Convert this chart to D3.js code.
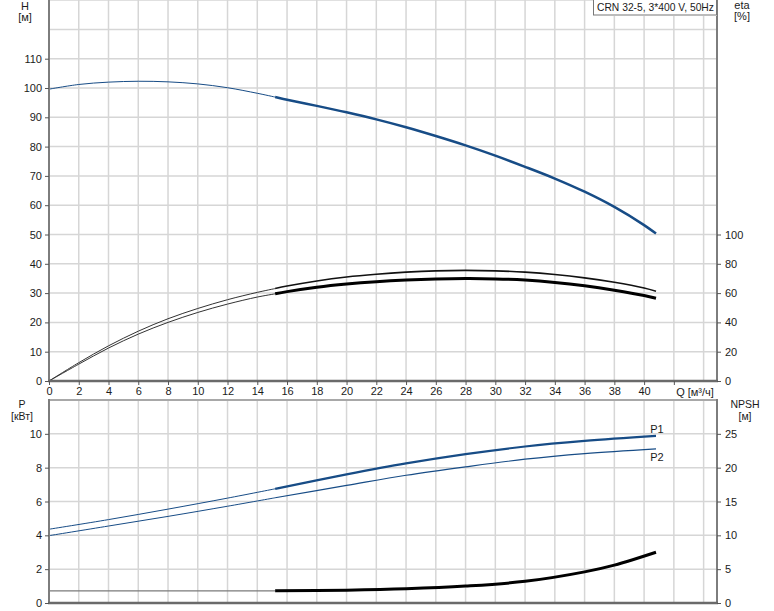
<!DOCTYPE html>
<html><head><meta charset="utf-8">
<script src="https://cdn.jsdelivr.net/npm/d3@7"></script>
<style>
html,body{margin:0;padding:0;background:#fff;}
svg text{font-family:"Liberation Sans",Arial,sans-serif;font-size:11px;fill:#1b1b1b;}
</style></head>
<body><svg id="c" width="774" height="611"></svg>
<script>
// ---- data ----
const qTicks = [0,2,4,6,8,10,12,14,16,18,20,22,24,26,28,30,32,34,36,38,40];
const hTicks = [0,10,20,30,40,50,60,70,80,90,100,110];
const etaTicks = [0,20,40,60,80,100];
const pTicks = [0,2,4,6,8,10];
const npshTicks = [0,5,10,15,20,25];
const splitQ = 15.2;

const qH = [0,2,4,6,8,10,12,14,15.2,16,18,20,22,24,26,28,30,32,34,36,38,40,40.8];
const hVals = [99.6,101.2,102.0,102.3,102.1,101.4,100.1,98.2,96.9,96.0,93.9,91.7,89.3,86.6,83.6,80.4,76.9,73.1,69.1,64.6,59.4,53.2,50.3];

const qE = [0,2,4,6,8,10,12,14,15.2,16,18,20,22,24,26,28,30,32,34,36,38,40,40.8];
const eta1 = [0,12.5,24,34,42.5,49.5,55.5,60.5,63.1,64.8,68.3,71,72.9,74.3,75.2,75.5,75.2,74.3,72.7,70.4,67.4,63.5,61.3];
const eta2 = [0,11.5,22.5,32,40,46.8,52.5,57.3,59.5,61,64,66.2,67.8,68.9,69.6,69.9,69.7,68.9,67.3,65,62,58.4,56.5];

const qP = [0,4,8,12,15.2,20,24,28,32,36,40.8];
const p1 = [4.36,4.93,5.55,6.2,6.75,7.6,8.25,8.8,9.25,9.58,9.88];
const p2 = [3.98,4.55,5.12,5.72,6.22,6.95,7.55,8.05,8.5,8.83,9.11];

const qN = [0,15.2,20,24,28,32,36,38,40.8];
const npsh = [1.8,1.8,1.9,2.1,2.5,3.2,4.6,5.6,7.5];

const title = "CRN 32-5, 3*400 V, 50Hz";

// ---- scales ----
const svg = d3.select("#c");
const x = d3.scaleLinear().domain([0,44.9]).range([49,717]);
const yH = d3.scaleLinear().domain([0,130]).range([381,0.1]);
const yEta = d3.scaleLinear().domain([0,260]).range([381,0.1]);
const yP = d3.scaleLinear().domain([0,12]).range([603,400]);
const yN = d3.scaleLinear().domain([0,30]).range([603,400]);

const gridCol = "#d6d6d6";
const blue = "#174c86";

// grids
const gridQ = d3.range(2,45,2);
const g = svg.append("g");
gridQ.forEach(q=>{
  g.append("line").attr("x1",x(q)).attr("x2",x(q)).attr("y1",0).attr("y2",381).attr("stroke",gridCol).attr("stroke-width",1.5);
  g.append("line").attr("x1",x(q)).attr("x2",x(q)).attr("y1",400).attr("y2",603).attr("stroke",gridCol).attr("stroke-width",1.5);
});
d3.range(10,131,10).forEach(h=>{
  g.append("line").attr("x1",49).attr("x2",717).attr("y1",yH(h)).attr("y2",yH(h)).attr("stroke",gridCol).attr("stroke-width",1.5);
});
d3.range(2,11,2).forEach(p=>{
  g.append("line").attr("x1",49).attr("x2",717).attr("y1",yP(p)).attr("y2",yP(p)).attr("stroke",gridCol).attr("stroke-width",1.5);
});
g.append("line").attr("x1",49).attr("x2",717).attr("y1",400).attr("y2",400).attr("stroke","#a8a8a8").attr("stroke-width",2);

// ---- curves ----
function pts(qs, vs){ return qs.map((q,i)=>[q,vs[i]]); }
function draw(data, ys, color, wThin, wThick, thinColor){
  const line = d3.line().x(d=>x(d[0])).y(d=>ys(d[1])).curve(d3.curveCatmullRom.alpha(0.5));
  const a = data.filter(d=>d[0]<=splitQ), b = data.filter(d=>d[0]>=splitQ);
  if(a.length>1) svg.append("path").attr("d",line(a)).attr("fill","none").attr("stroke",thinColor||color).attr("stroke-width",wThin);
  if(b.length>1) svg.append("path").attr("d",line(b)).attr("fill","none").attr("stroke",color).attr("stroke-width",wThick);
}
draw(pts(qH,hVals), yH, blue, 1, 2.5);
draw(pts(qE,eta1), yEta, "#111", 1, 1.6, "#333");
draw(pts(qE,eta2), yEta, "#000", 1, 3, "#333");
draw(pts(qP,p1), yP, blue, 1, 2.2);
draw(pts(qP,p2), yP, blue, 1, 1.2);
draw(pts(qN,npsh), yN, "#000", 1.2, 3, "#7a7a7a");

// ---- axes ----
const axCol = "#7d7d7d";
svg.append("line").attr("x1",49).attr("x2",49).attr("y1",0).attr("y2",382).attr("stroke",axCol).attr("stroke-width",2);
svg.append("line").attr("x1",717).attr("x2",717).attr("y1",0).attr("y2",382).attr("stroke",axCol).attr("stroke-width",2);
svg.append("line").attr("x1",48).attr("x2",718).attr("y1",381).attr("y2",381).attr("stroke","#6a6a6a").attr("stroke-width",2.5);
svg.append("line").attr("x1",49).attr("x2",49).attr("y1",399).attr("y2",604).attr("stroke",axCol).attr("stroke-width",2);
svg.append("line").attr("x1",717).attr("x2",717).attr("y1",399).attr("y2",604).attr("stroke",axCol).attr("stroke-width",2);
svg.append("line").attr("x1",48).attr("x2",718).attr("y1",603).attr("y2",603).attr("stroke","#6a6a6a").attr("stroke-width",2.5);

function tickStyle(sel){
  sel.select(".domain").remove();
  sel.selectAll(".tick line").attr("stroke","#555").attr("stroke-width",1);
  sel.selectAll(".tick text").attr("fill","#1b1b1b").style("font-family","'Liberation Sans',Arial,sans-serif").style("font-size","11px");
}
svg.append("g").attr("transform","translate(49,0)")
  .call(d3.axisLeft(yH).tickValues(hTicks).tickSize(4).tickPadding(3)).call(tickStyle);
svg.append("g").attr("transform","translate(717,0)")
  .call(d3.axisRight(yEta).tickValues(etaTicks).tickSize(4).tickPadding(4)).call(tickStyle);
svg.append("g").attr("transform","translate(0,381)")
  .call(d3.axisBottom(x).tickValues(qTicks.concat([42])).tickFormat(d=>d===42?"":d).tickSize(4).tickPadding(2)).call(tickStyle);
svg.append("g").attr("transform","translate(49,0)")
  .call(d3.axisLeft(yP).tickValues(pTicks).tickSize(4).tickPadding(3)).call(tickStyle);
svg.append("g").attr("transform","translate(717,0)")
  .call(d3.axisRight(yN).tickValues(npshTicks).tickSize(4).tickPadding(4)).call(tickStyle);

// ---- labels ----
function txt(s, tx, ty, anchor){ return svg.append("text").attr("x",tx).attr("y",ty).attr("text-anchor",anchor||"middle").text(s); }
txt("H",25,10); txt("[м]",25,21);
txt("eta",742,9); txt("[%]",742,20);
txt("P",22,408).style("font-size","10.5px"); txt("[кВт]",22,420).style("font-size","10.5px");
txt("NPSH",745,408).style("font-size","10.5px"); txt("[м]",745,420).style("font-size","10.5px");
txt("Q [м³/ч]",695,396);
txt("P1",657,433); txt("P2",657,461);

// title box
svg.append("rect").attr("x",593.5).attr("y",-1).attr("width",123).attr("height",16).attr("fill","#fff").attr("stroke","#777").attr("stroke-width",1);
svg.append("line").attr("x1",594).attr("x2",717).attr("y1",15.5).attr("y2",15.5).attr("stroke","#bbb").attr("stroke-width",1);
txt(title,597,11,"start").style("font-size","10.3px");
</script></body></html>
